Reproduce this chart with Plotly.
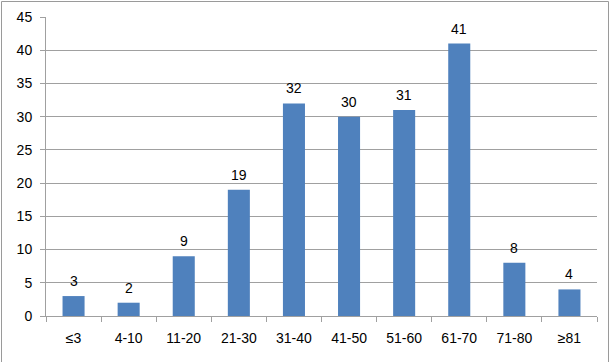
import plotly.graph_objects as go

categories = ["≤3", "4-10", "11-20", "21-30", "31-40", "41-50", "51-60", "61-70", "71-80", "≥81"]
values = [3, 2, 9, 19, 32, 30, 31, 41, 8, 4]
y_ticks = [0, 5, 10, 15, 20, 25, 30, 35, 40, 45]

W, H = 612, 362
L, R, T, B = 46, 15, 17, 46
pw, ph = W - L - R, H - T - B
GRID = "#a0a0a0"
FONT = "Liberation Sans"

def px(x):
    return (x - L) / pw

def py(y):
    return (H - B - y) / ph

fig = go.Figure(go.Bar(
    x=categories, y=values,
    marker=dict(color="#4F81BD", line=dict(width=0)),
    hoverinfo="x+y",
))

annotations = [dict(
    x=c, y=v, xref="x", yref="y", text=str(v), showarrow=False,
    yanchor="bottom", yshift=5, font=dict(size=14, color="#000000", family=FONT),
) for c, v in zip(categories, values)]

fig.update_layout(
    width=W, height=H,
    margin=dict(l=L, r=R, t=T, b=B, autoexpand=False),
    paper_bgcolor="white", plot_bgcolor="white",
    bargap=0.6, showlegend=False,
    font=dict(family=FONT, size=14, color="#000000"),
    annotations=annotations,
    xaxis=dict(
        showgrid=False, showline=True, linecolor=GRID, linewidth=1,
        ticks="outside", ticklen=5, tickcolor=GRID,
        tickson="boundaries", ticklabelstandoff=9,
        tickfont=dict(size=14), automargin=False,
    ),
    yaxis=dict(
        range=[0, 45], tickvals=y_ticks, showgrid=True, gridcolor=GRID, gridwidth=1,
        showline=True, linecolor=GRID, linewidth=1,
        ticks="outside", ticklen=5, tickcolor=GRID,
        zeroline=False, tickfont=dict(size=14), ticklabelstandoff=5,
        automargin=False,
    ),
    shapes=[dict(
        type="rect", xref="paper", yref="paper",
        x0=px(1.5), x1=px(608.5), y0=py(1.5), y1=py(364),
        line=dict(color="#9a9a9a", width=1), fillcolor="rgba(0,0,0,0)", layer="below",
    )],
)

fig.write_html("out.html", config={"displayModeBar": False},
               post_script="document.body.style.margin='0';document.body.style.padding='0';")
